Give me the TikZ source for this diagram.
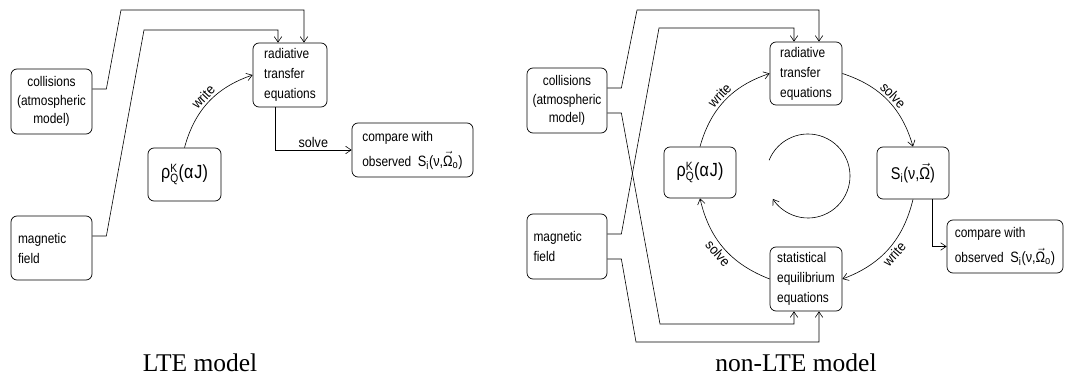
\documentclass[tikz,border=0pt]{standalone}
\usepackage{fontspec}
\setmainfont{Liberation Serif}
\newfontfamily\nar[FakeStretch=0.85]{Liberation Sans}
\newfontfamily\narl[FakeStretch=0.9]{Liberation Sans}
\usetikzlibrary{arrows.meta}
\newcommand\myrho{{\fontsize{19}{22}\selectfont ρ$^{\mbox{\fontsize{12}{12}\selectfont K}}_{\mbox{\nar\fontsize{12}{12}\selectfont Q}}$(α\kern1pt J)}}
\newcommand\mySi{{\fontsize{17}{20}\selectfont S$_{\mbox{\fontsize{12}{12}\selectfont i}}$(ν,$\vec{\mbox{Ω}}$)}}
\newcommand\mySo{{\fontsize{15}{18}\selectfont S$_{\mbox{\fontsize{11}{11}\selectfont i}}$(ν,$\vec{\mbox{Ω}}_{\mbox{\fontsize{11}{11}\selectfont o}}$)}}
\tikzset{
  box/.style={draw, rounded corners=6pt, inner sep=0pt, line width=0.7pt, font=\nar\fontsize{14}{20}\selectfont},
  lbl/.style={font=\narl\fontsize{14}{16}\selectfont, inner sep=2pt},
  arr/.style={-{Straight Barb[length=5.5pt,width=7.5pt]}, line width=0.6pt},
  captext/.style={font=\fontsize{25.5}{30}\selectfont}
}
\begin{document}
\begin{tikzpicture}[x=1pt,y=1pt]
\useasboundingbox (0,0) rectangle (1065,-379);
% ---------- LTE ----------
\node[box, minimum width=81pt, minimum height=65pt, align=center, font=\nar\fontsize{14}{18.5}\selectfont] (coll1) at (51.5,-101.5) {collisions\\(atmospheric\\model)};
\node[box, minimum width=81pt, minimum height=64pt, text width=67pt, align=left] (mag1) at (51.5,-248) {magnetic\\field};
\node[box, minimum width=74pt, minimum height=64pt, align=left] (rad1) at (290,-75) {radiative\\transfer\\equations};
\node[box, minimum width=73pt, minimum height=53pt] (rho1) at (184.5,-174.5) {\myrho};
\node[box, minimum width=121pt, minimum height=54pt, align=left, font=\nar\fontsize{14}{25}\selectfont] (cmp1) at (412.5,-150) {compare with\\observed\ \ \mySo};
\node[captext] (cap1) at (200,-363) {LTE model};

\draw[arr] ([yshift=12.5pt]coll1.east) -- ++(14,0) -- (121,-10) -| ([xshift=14pt]rad1.north);
\draw[arr] ([yshift=12pt]mag1.east) -- ++(14,0) -- (144,-30) -| ([xshift=-12pt]rad1.north);
\draw[arr] (rho1.north) to[bend left=28] node[lbl, sloped, above] {write} (rad1.west);
\draw[arr] ([xshift=-15pt]rad1.south) |- node[lbl, pos=0.75, above] {solve} (cmp1.west);

% ---------- non-LTE ----------
\node[box, minimum width=80pt, minimum height=65pt, align=center, font=\nar\fontsize{14}{18.5}\selectfont] (coll2) at (567,-100.5) {collisions\\(atmospheric\\model)};
\node[box, minimum width=80pt, minimum height=65pt, text width=67pt, align=left] (mag2) at (567,-246.5) {magnetic\\field};
\node[box, minimum width=72pt, minimum height=63pt, align=left] (rad2) at (806,-73.5) {radiative\\transfer\\equations};
\node[box, minimum width=72pt, minimum height=51pt] (rho2) at (700,-172.5) {\myrho};
\node[box, minimum width=72pt, minimum height=52pt] (S2) at (913,-173) {\mySi};
\node[box, minimum width=72pt, minimum height=64pt, align=left] (stat2) at (806,-279) {statistical\\equilibrium\\equations};
\node[box, minimum width=116pt, minimum height=53pt, align=left, font=\nar\fontsize{14}{25}\selectfont] (cmp2) at (1005,-246.5) {compare with\\observed\ \ \mySo};
\node[captext] (cap2) at (796,-363) {non-LTE model};

\draw[arr] ([yshift=12.5pt]coll2.east) -- ++(14,0) -- (637,-10) -| ([xshift=13pt]rad2.north);
\draw[arr] ([yshift=12.5pt]mag2.east) -- ++(14,0) -- (659,-28) -| ([xshift=-12pt]rad2.north);
\draw[arr] ([yshift=-12.5pt]coll2.east) -- ++(14,0) -- (660,-324) -| ([xshift=-12pt]stat2.south);
\draw[arr] ([yshift=-12.5pt]mag2.east) -- ++(14,0) -- (636,-342) -| ([xshift=13pt]stat2.south);

\draw[arr] (rho2.north) to[bend left=28] node[lbl, sloped, above] {write} (rad2.west);
\draw[arr] (rad2.east) to[bend left=28] node[lbl, sloped, above] {solve} (S2.north);
\draw[arr] (S2.south) to[bend left=28] node[lbl, sloped, below] {write} (stat2.east);
\draw[arr] (stat2.west) to[bend left=28] node[lbl, sloped, below] {solve} (rho2.south);
\draw[arr] ([xshift=19pt]S2.south) |- (cmp2.west);

\draw[arr] (808,-176) ++(158:42) arc[start angle=158, end angle=-147, radius=42];
\end{tikzpicture}
\end{document}
